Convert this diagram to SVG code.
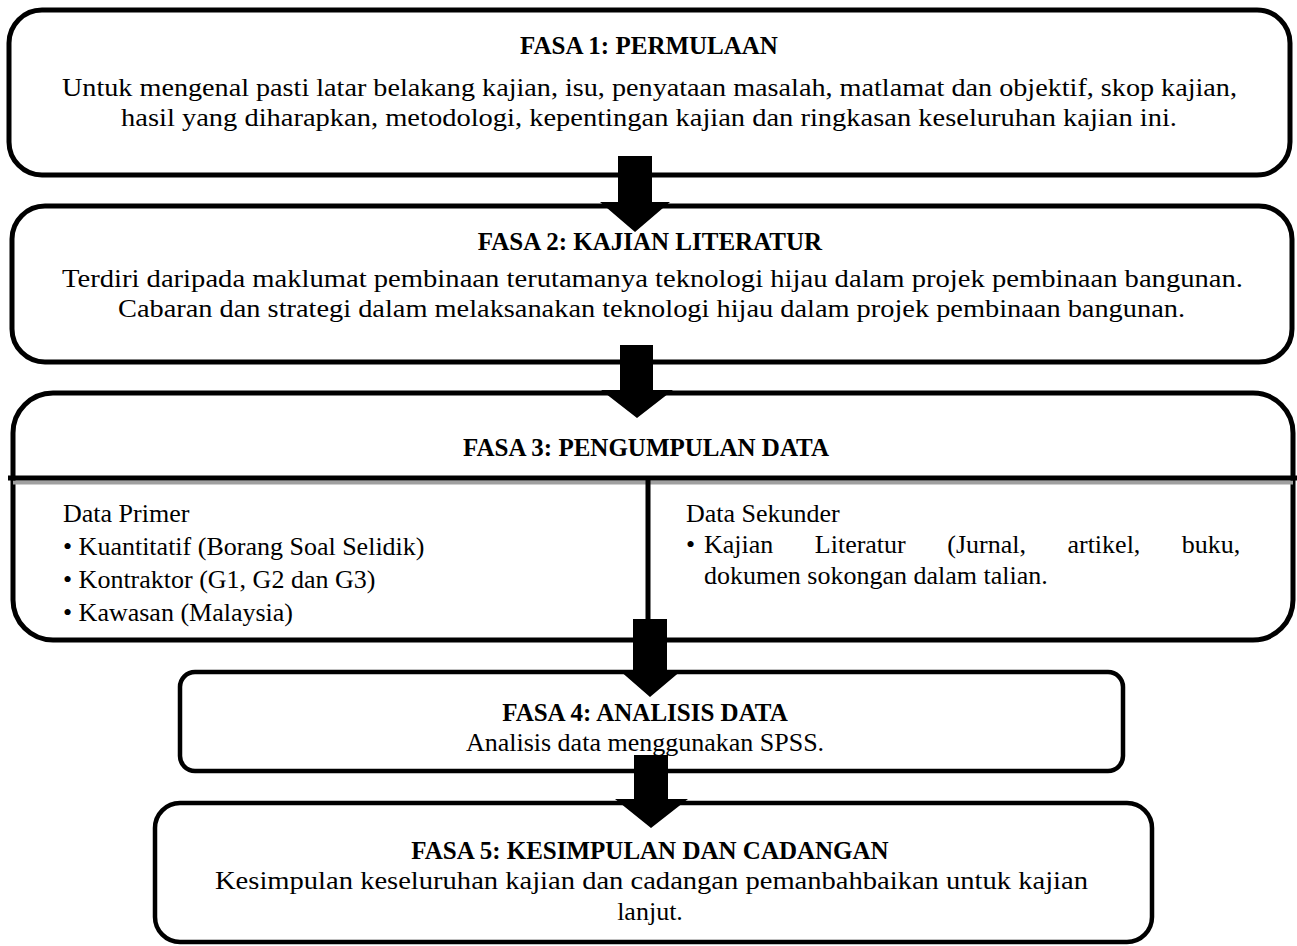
<svg xmlns="http://www.w3.org/2000/svg" width="1297" height="946" viewBox="0 0 1297 946">
<style>
.box{fill:#fff;stroke:#000;stroke-width:5}
.t{font-family:"Liberation Serif","Times New Roman",serif;font-size:26px;fill:#000}
.h{font-weight:bold;text-anchor:middle;font-size:25px}
.c{text-anchor:middle}
.arr{fill:#000;stroke:none}
</style>
<rect width="1297" height="946" fill="#fff"/>
<g id="fasa1">
<rect class="box" x="9" y="10" width="1281" height="165" rx="33"/>
<text class="t h" x="649" y="54">FASA 1: PERMULAAN</text>
<text class="t c" x="649.5" y="96" textLength="1175" lengthAdjust="spacingAndGlyphs">Untuk mengenal pasti latar belakang kajian, isu, penyataan masalah, matlamat dan objektif, skop kajian,</text>
<text class="t c" x="649" y="126" textLength="1056" lengthAdjust="spacingAndGlyphs">hasil yang diharapkan, metodologi, kepentingan kajian dan ringkasan keseluruhan kajian ini.</text>
</g>
<g id="fasa2">
<rect class="box" x="12" y="206" width="1280" height="156" rx="33"/>
<text class="t h" x="650" y="250">FASA 2: KAJIAN LITERATUR</text>
<text class="t c" x="652.5" y="287" textLength="1181" lengthAdjust="spacingAndGlyphs">Terdiri daripada maklumat pembinaan terutamanya teknologi hijau dalam projek pembinaan bangunan.</text>
<text class="t c" x="651.5" y="317" textLength="1067" lengthAdjust="spacingAndGlyphs">Cabaran dan strategi dalam melaksanakan teknologi hijau dalam projek pembinaan bangunan.</text>
</g>
<g id="fasa3">
<rect class="box" x="13" y="393" width="1280" height="247" rx="40"/>
<text class="t h" x="646" y="456">FASA 3: PENGUMPULAN DATA</text>
<line x1="13" y1="482.5" x2="1293" y2="482.5" stroke="#a0a0a0" stroke-width="4"/>
<line x1="8" y1="478" x2="1297" y2="478" stroke="#000" stroke-width="5"/>
<line x1="648" y1="478" x2="648" y2="640" stroke="#000" stroke-width="5"/>
<text class="t" x="63" y="522">Data Primer</text>
<text class="t" x="63" y="555">• Kuantitatif (Borang Soal Selidik)</text>
<text class="t" x="63" y="588">• Kontraktor (G1, G2 dan G3)</text>
<text class="t" x="63" y="621">• Kawasan (Malaysia)</text>
<text class="t" x="686" y="522">Data Sekunder</text>
<text class="t" x="686" y="553">•</text>
<text class="t" x="704" y="553" word-spacing="35">Kajian Literatur (Jurnal, artikel, buku,</text>
<text class="t" x="704" y="584">dokumen sokongan dalam talian.</text>
</g>
<g id="fasa4">
<rect class="box" x="180" y="672" width="943" height="99" rx="15" style="stroke-width:4.5"/>
<text class="t h" x="645" y="721">FASA 4: ANALISIS DATA</text>
<text class="t c" x="645" y="751">Analisis data menggunakan SPSS.</text>
</g>
<g id="fasa5">
<rect class="box" x="155" y="803" width="997" height="139" rx="25" style="stroke-width:4.5"/>
<text class="t h" x="650" y="859">FASA 5: KESIMPULAN DAN CADANGAN</text>
<text class="t c" x="651.5" y="889" textLength="873" lengthAdjust="spacingAndGlyphs">Kesimpulan keseluruhan kajian dan cadangan pemanbahbaikan untuk kajian</text>
<text class="t c" x="650" y="920">lanjut.</text>
</g>
<g id="connectors">
<polygon class="arr" points="618,156 652,156 652,202 670,202 635,232 600,202 618,202"/>
<polygon class="arr" points="620,345 653,345 653,390 673,390 637,418 601,390 620,390"/>
<polygon class="arr" points="633,619 667,619 667,670 682,670 650,697 619,670 633,670"/>
<polygon class="arr" points="634,755 668,755 668,799 688,799 651,828 615,799 634,799"/>
</g>
</svg>
